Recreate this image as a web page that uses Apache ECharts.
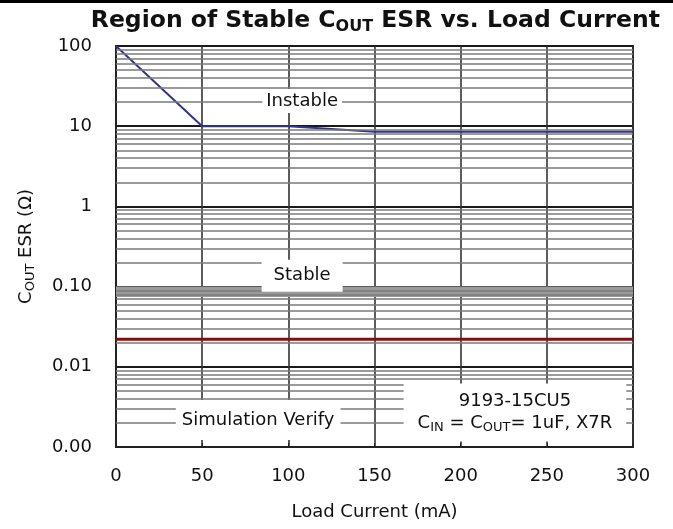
<!DOCTYPE html>
<html>
<head>
<meta charset="utf-8">
<script src="https://cdn.jsdelivr.net/npm/echarts@6/dist/echarts.min.js"></script>
<style>
  html, body { margin: 0; padding: 0; background: #fff; }
  #chart { width: 673px; height: 529px; }
</style>
</head>
<body>
<div id="chart"></div>
<script>
// x ticks (mA) and y tick labels for 1e-3 .. 1e2
const xTicks = [0, 50, 100, 150, 200, 250, 300];
const yTickLabels = ['0.00', '0.01', '0.10', '1', '10', '100'];

// upper ESR boundary (blue) and lower boundary (red)
const upperCurrent = [0, 50, 100, 150, 300];
const upperEsr = [100, 10, 10, 8.5, 8.5];
const lowerCurrent = [0, 300];
const lowerEsr = [0.022, 0.022];

// text notes anchored in data coordinates
const noteText = ['Instable', 'Stable', 'Simulation Verify', '9193-15CU5\nC{s|IN} = C{s|OUT}= 1uF, X7R'];
const noteCurrent = [108, 108, 82.5, 231.5];
const noteEsr = [20.6, 0.137, 0.00217, 0.0027];

const FONT = 'DejaVu Sans';

// minor log grid lines 2..9 in each decade
const minorLines = [];
for (let d = -3; d <= 1; d++) {
  for (let m = 2; m <= 9; m++) {
    const v = m * Math.pow(10, d);
    minorLines.push([{ coord: [0, v] }, { coord: [300, v] }]);
  }
}

const chart = echarts.init(document.getElementById('chart'));

const notePads = [[1, 4], [5, 12], [9, 6], [7, 14]];

chart.setOption({
  animation: false,
  backgroundColor: '#fff',
  title: {
    text: 'Region of Stable C{s|OUT} ESR vs. Load Current',
    right: 8,
    top: 2,
    textStyle: {
      fontFamily: FONT,
      fontSize: 23.5,
      fontWeight: 'bold',
      color: '#111',
      lineHeight: 28,
      rich: {
        s: { fontFamily: FONT, fontSize: 16, fontWeight: 'bold', color: '#111', verticalAlign: 'bottom', lineHeight: 18 }
      }
    }
  },
  graphic: [
    { type: 'rect', shape: { x: 0, y: 0, width: 673, height: 3 }, style: { fill: '#000' } }
  ],
  grid: {
    left: 116, right: 40, top: 46, bottom: 82,
    show: true, borderColor: '#222', borderWidth: 2
  },
  xAxis: {
    type: 'value',
    min: 0, max: 300, interval: 50,
    name: 'Load Current (mA)',
    nameLocation: 'middle',
    nameGap: 56,
    nameTextStyle: { fontFamily: FONT, fontSize: 18, color: '#111' },
    axisLine: { lineStyle: { color: '#222', width: 2 } },
    axisTick: { inside: true, length: 4, lineStyle: { color: '#222' } },
    axisLabel: {
      fontFamily: FONT, fontSize: 18, color: '#111', margin: 20,
      formatter: v => xTicks.includes(v) ? String(v) : ''
    },
    splitLine: { show: true, lineStyle: { color: '#333', width: 1.6 } }
  },
  yAxis: {
    type: 'log',
    logBase: 10,
    min: 0.001, max: 100,
    name: 'C{s|OUT} ESR (Ω)',
    nameLocation: 'middle',
    nameGap: 79,
    nameTextStyle: {
      fontFamily: FONT, fontSize: 18, color: '#111', lineHeight: 22,
      rich: { s: { fontFamily: FONT, fontSize: 13, color: '#111', verticalAlign: 'bottom', lineHeight: 18 } }
    },
    axisLine: { show: true, lineStyle: { color: '#222', width: 2 } },
    axisTick: { show: true, inside: true, length: 5, lineStyle: { color: '#222' } },
    axisLabel: {
      fontFamily: FONT, fontSize: 18, color: '#111', margin: 24,
      formatter: v => yTickLabels[Math.round(Math.log10(v)) + 3]
    },
    splitLine: { show: true, lineStyle: { color: '#1a1a1a', width: 2 } }
  },
  series: [
    {
      name: 'grid',
      type: 'line',
      data: [],
      silent: true,
      z: 1,
      markLine: {
        silent: true,
        symbol: ['none', 'none'],
        label: { show: false },
        lineStyle: { color: '#7a7a7a', width: 1.6, type: 'solid' },
        data: minorLines
      },
      markArea: {
        silent: true,
        itemStyle: { color: '#9a9a9a' },
        data: [[{ yAxis: 0.1 }, { yAxis: 0.074 }]]
      }
    },
    {
      name: 'upper',
      type: 'line',
      z: 3,
      symbol: 'none',
      lineStyle: { color: '#33338f', width: 2 },
      data: upperCurrent.map((c, i) => [c, upperEsr[i]])
    },
    {
      name: 'lower',
      type: 'line',
      z: 3,
      symbol: 'none',
      lineStyle: { color: '#8b0a0a', width: 3 },
      data: lowerCurrent.map((c, i) => [c, lowerEsr[i]])
    },
    {
      name: 'notes',
      type: 'scatter',
      z: 5,
      silent: true,
      symbolSize: 0,
      itemStyle: { opacity: 1 },
      data: noteText.map((t, i) => ({
        value: [noteCurrent[i], noteEsr[i]],
        label: {
          show: true,
          position: 'inside',
          formatter: t,
          fontFamily: FONT,
          fontSize: 18,
          lineHeight: 22,
          color: '#111',
          align: 'center',
          backgroundColor: '#fff',
          padding: notePads[i],
          rich: { s: { fontFamily: FONT, fontSize: 13, color: '#111', verticalAlign: 'bottom', lineHeight: 16 } }
        }
      }))
    }
  ]
});
</script>
</body>
</html>
